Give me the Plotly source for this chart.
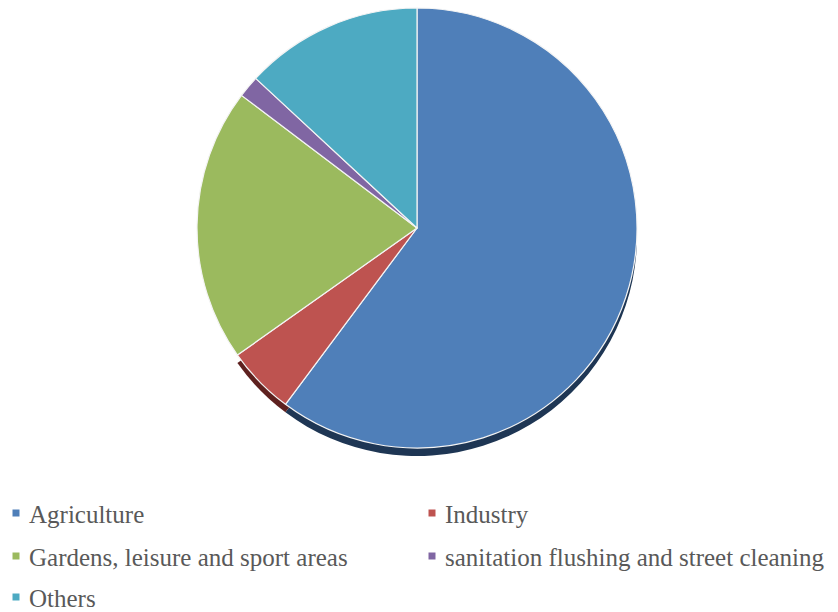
import plotly.graph_objects as go

# Water use shares by sector
labels = [
    "Agriculture",
    "Industry",
    "Gardens, leisure and sport areas",
    "sanitation flushing and street cleaning",
    "Others",
]
values = [60.2, 5.0, 20.1, 1.6, 13.1]
colors = ["#4F7FB9", "#BE5350", "#9BBA5E", "#8066A3", "#4DAAC2"]
rim_colors = ["#1E3654", "#5E211F", "rgba(0,0,0,0)", "rgba(0,0,0,0)", "rgba(0,0,0,0)"]

W, H = 838, 612
cx, cy, r = 417, 228, 220
depth = 8


def dom(cx, cy, r):
    return dict(
        x=[(cx - r) / W, (cx + r) / W],
        y=[1 - (cy + r) / H, 1 - (cy - r) / H],
    )


fig = go.Figure()

# dark rim under the disc for a raised look
fig.add_trace(go.Pie(
    labels=labels, values=values, sort=False, direction="clockwise",
    rotation=0, domain=dom(cx, cy + depth, r), textinfo="none",
    marker=dict(colors=rim_colors, line=dict(width=0)),
    showlegend=False, hoverinfo="skip",
))

fig.add_trace(go.Pie(
    labels=labels, values=values, sort=False, direction="clockwise",
    rotation=0, domain=dom(cx, cy, r), textinfo="none",
    marker=dict(colors=colors, line=dict(color="#F4F4F4", width=1.2)),
    showlegend=False,
))

# two-column legend below the pie: small square key + label
col_x = [16, 432]
row_y = [513, 556, 597]
key = 7
for i, (lab, col) in enumerate(zip(labels, colors)):
    x0 = col_x[i % 2]
    y0 = row_y[i // 2]
    fig.add_shape(
        type="rect", xref="paper", yref="paper",
        x0=(x0 - key / 2) / W, x1=(x0 + key / 2) / W,
        y0=1 - (y0 + key / 2) / H, y1=1 - (y0 - key / 2) / H,
        fillcolor=col, line=dict(width=0),
    )
    fig.add_annotation(
        text=lab, xref="paper", yref="paper",
        x=(x0 + 12) / W, y=1 - (y0 + 1) / H,
        xanchor="left", yanchor="middle", showarrow=False, borderpad=0,
        font=dict(family="Liberation Serif", size=25, color="#595959"),
    )

fig.update_layout(
    width=W, height=H,
    margin=dict(l=0, r=0, t=0, b=0),
    paper_bgcolor="white", plot_bgcolor="white",
    showlegend=False,
)

fig.write_html("out.html")
